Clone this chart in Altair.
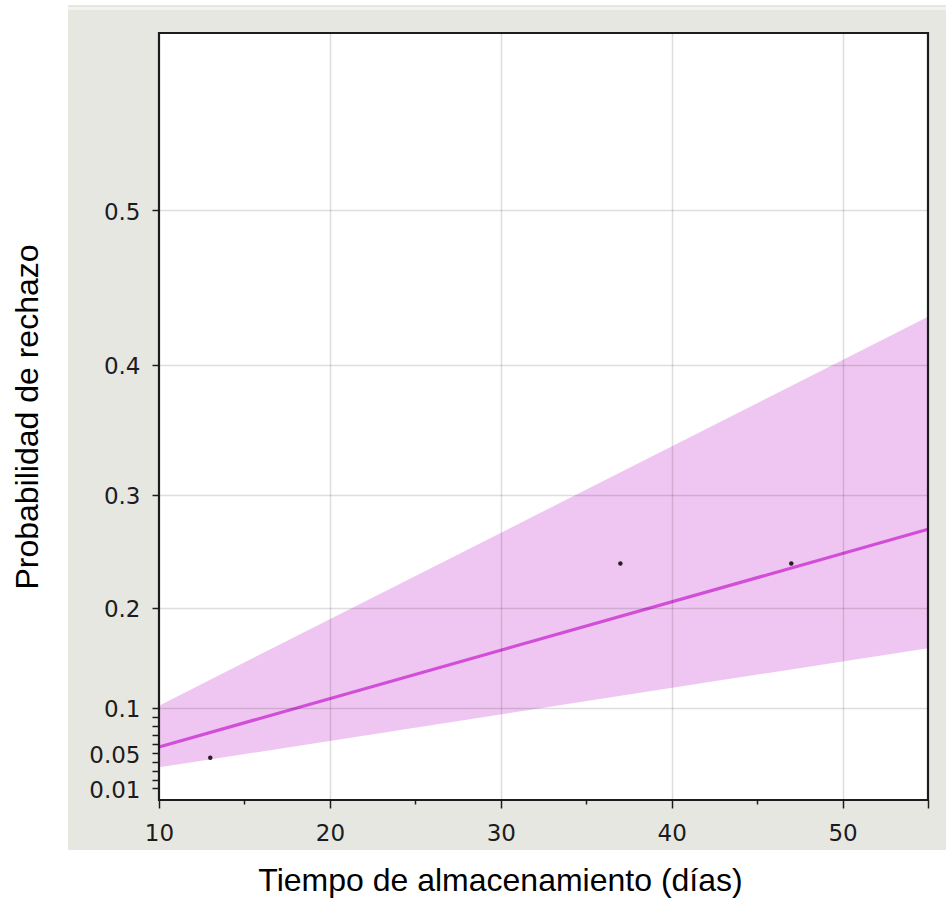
import math
import altair as alt
import pandas as pd

# ---- data (probabilities) ----
x_obs = [13, 37, 47]
p_obs = [0.045, 0.241, 0.241]

x_fit = [10, 55]
p_fit = [0.057, 0.271]
p_low = [0.034, 0.161]
p_high = [0.102, 0.433]

# axis ticks
x_major = [10, 20, 30, 40, 50, 55]
x_grid = [20, 30, 40, 50]
x_minor = [15, 25, 35, 45]
p_major = [0.01, 0.05, 0.1, 0.2, 0.3, 0.4, 0.5]
p_grid = [0.1, 0.2, 0.3, 0.4, 0.5]
p_minor = [0.02, 0.03, 0.04, 0.06, 0.07, 0.08, 0.09]

# ---- layout ----
W, H = 769, 767
PAD = {"left": 159, "top": 33, "right": 18, "bottom": 98}
Y_DOMAIN = [-0.004, 0.903]   # exponential probability scale: position is -ln(1-p)


def tpos(ps):
    return [-math.log(1 - p) for p in ps]


obs = pd.DataFrame({"x": x_obs, "p": p_obs})
fit = pd.DataFrame({"x": x_fit, "p": p_fit, "lo": p_low, "hi": p_high})

xscale = alt.Scale(domain=[10, 55], nice=False, zero=False)
yscale = alt.Scale(domain=Y_DOMAIN, nice=False, zero=False)

label_font = "DejaVu Sans"
title_font = "Liberation Sans"
INK = "#1c1c1c"

x_main = alt.Axis(
    orient="bottom", values=x_major,
    title="Tiempo de almacenamiento (días)",
    titleFont=title_font, titleFontSize=32, titleFontWeight="normal",
    titleColor="#000000", titleX=341, titleY=90, titleAlign="center",
    titleBaseline="alphabetic",
    labelExpr="datum.value == 55 ? '' : datum.label",
    labelFont=label_font, labelFontSize=23, labelColor=INK,
    labelPadding=14, labelFlush=False, labelOverlap=False,
    tickColor=INK, tickWidth=1.5, tickSize=8,
    domain=False, grid=False, zindex=1,
)
x_gridaxis = alt.Axis(
    orient="bottom", values=x_grid, title=None, labels=False, ticks=False,
    domain=False, grid=True, gridColor="#000000", gridOpacity=0.13,
    gridWidth=1.5, zindex=1,
)
x_minoraxis = alt.Axis(
    orient="bottom", values=x_minor, title=None, labels=False,
    domain=False, grid=False, tickColor=INK, tickWidth=1.5, tickSize=4,
    zindex=1,
)

y_main = alt.Axis(
    orient="left", values=tpos(p_major),
    title="Probabilidad de rechazo",
    titleFont=title_font, titleFontSize=32, titleFontWeight="normal",
    titleColor="#000000", titleX=-122, titleY=H / 2, titleAngle=270,
    titleAlign="center", titleBaseline="alphabetic",
    labelExpr="format(round((1 - exp(-datum.value)) * 100) / 100, '~g')",
    labelFont=label_font, labelFontSize=23, labelColor=INK,
    labelPadding=12, labelOffset=2, labelBaseline="middle",
    labelFlush=False, labelOverlap=False,
    tickColor=INK, tickWidth=1.5, tickSize=7,
    domain=False, grid=False, zindex=1,
)
y_gridaxis = alt.Axis(
    orient="left", values=tpos(p_grid), title=None, labels=False, ticks=False,
    domain=False, grid=True, gridColor="#000000", gridOpacity=0.13,
    gridWidth=1.5, zindex=1,
)
y_minoraxis = alt.Axis(
    orient="left", values=tpos(p_minor), title=None, labels=False,
    domain=False, grid=False, tickColor=INK, tickWidth=1.5, tickSize=7,
    zindex=1,
)

one = alt.Data(values=[{}])

# decorative panel background
bg = alt.Chart(one).mark_rect(color="#e7e7e2").encode(
    x=alt.value(-91), x2=alt.value(W + PAD["right"]),
    y=alt.value(-28), y2=alt.value(817),
)
strip = alt.Chart(one).mark_rect(color="#f2f2ef").encode(
    x=alt.value(-91), x2=alt.value(W + PAD["right"]),
    y=alt.value(-26), y2=alt.value(-23),
)
plotbg = alt.Chart(one).mark_rect(color="#ffffff").encode(
    x=alt.value(0), x2=alt.value(W), y=alt.value(0), y2=alt.value(H),
)

band = alt.Chart(fit).transform_calculate(
    tlo="-log(1 - datum.lo)", thi="-log(1 - datum.hi)"
).mark_area(color="#efc6f1", opacity=1).encode(
    x=alt.X("x:Q", scale=xscale, axis=x_main),
    y=alt.Y("tlo:Q", scale=yscale, axis=y_main),
    y2="thi:Q",
)

line = alt.Chart(fit).transform_calculate(
    t="-log(1 - datum.p)"
).mark_line(color="#d24ed8", strokeWidth=3.2).encode(
    x=alt.X("x:Q", scale=xscale, axis=x_gridaxis),
    y=alt.Y("t:Q", scale=yscale, axis=y_gridaxis),
)

pts = alt.Chart(obs).transform_calculate(
    t="-log(1 - datum.p)"
).mark_circle(color="#2b1b2b", size=20, opacity=1).encode(
    x=alt.X("x:Q", scale=xscale, axis=x_minoraxis),
    y=alt.Y("t:Q", scale=yscale, axis=y_minoraxis),
)

frame = alt.Chart(one).mark_rect(fillOpacity=0, stroke="#1c1c1c", strokeWidth=2.2).encode(
    x=alt.value(0), x2=alt.value(W), y=alt.value(0), y2=alt.value(H),
)

chart = alt.layer(bg, strip, plotbg, band, line, pts, frame).resolve_axis(
    x="independent", y="independent"
).properties(
    width=W, height=H,
    padding=PAD,
    autosize=alt.AutoSizeParams(type="none"),
    background="#ffffff",
).configure_view(stroke=None)

chart.save("out.html", embed_options={"renderer": "svg", "actions": False})
